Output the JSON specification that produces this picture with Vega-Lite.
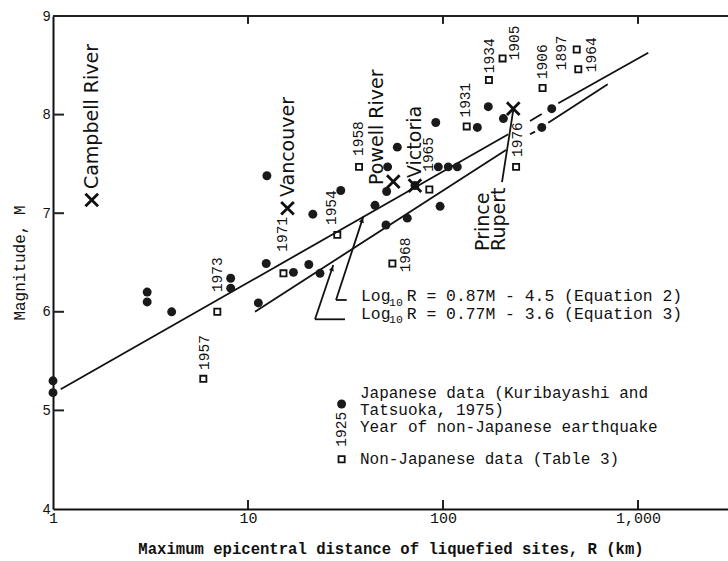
{
  "$schema": "https://vega.github.io/schema/vega-lite/v6.json",
  "width": 675,
  "height": 493,
  "autosize": {"type": "none"},
  "padding": {"left": 53, "top": 16, "right": 0, "bottom": 52},
  "background": "white",
  "config": {"view": {"stroke": null}, "font": "Liberation Mono"},
  "datasets": {
    "jp": [
      {"R": 1, "M": 5.30}, {"R": 1, "M": 5.18}, {"R": 3.04, "M": 6.20}, {"R": 3.04, "M": 6.10},
      {"R": 4.06, "M": 6.00}, {"R": 8.15, "M": 6.34}, {"R": 8.15, "M": 6.24}, {"R": 11.3, "M": 6.09},
      {"R": 12.5, "M": 7.38}, {"R": 12.4, "M": 6.49}, {"R": 17.1, "M": 6.40}, {"R": 20.5, "M": 6.48},
      {"R": 23.4, "M": 6.39}, {"R": 21.5, "M": 6.99}, {"R": 29.9, "M": 7.23}, {"R": 44.8, "M": 7.08},
      {"R": 51.4, "M": 7.22}, {"R": 52, "M": 7.47}, {"R": 58.3, "M": 7.67}, {"R": 51.0, "M": 6.88},
      {"R": 65.6, "M": 6.95}, {"R": 71.8, "M": 7.28}, {"R": 94.6, "M": 7.47}, {"R": 106.4, "M": 7.47},
      {"R": 118.4, "M": 7.47}, {"R": 96.6, "M": 7.07}, {"R": 91.8, "M": 7.92}, {"R": 150, "M": 7.87},
      {"R": 170.7, "M": 8.08}, {"R": 204, "M": 7.96}, {"R": 321, "M": 7.87}, {"R": 361, "M": 8.06}
    ],
    "nj": [
      {"R": 5.9, "M": 5.32, "year": "1957"}, {"R": 6.96, "M": 6.00, "year": "1973"},
      {"R": 15.2, "M": 6.39, "year": "1971"}, {"R": 28.7, "M": 6.78, "year": "1954"},
      {"R": 37.1, "M": 7.47, "year": "1958"}, {"R": 55.0, "M": 6.49, "year": "1968"},
      {"R": 85.1, "M": 7.24, "year": "1965"}, {"R": 132.3, "M": 7.88, "year": "1931"},
      {"R": 172, "M": 8.35, "year": "1934"}, {"R": 202, "M": 8.57, "year": "1905"},
      {"R": 237, "M": 7.47, "year": "1976"}, {"R": 324, "M": 8.27, "year": "1906"},
      {"R": 485, "M": 8.66, "year": "1897"}, {"R": 494, "M": 8.46, "year": "1964"}
    ],
    "named": [
      {"R": 1.58, "M": 7.134, "site": "Campbell River"}, {"R": 15.94, "M": 7.05, "site": "Vancouver"},
      {"R": 55.6, "M": 7.32, "site": "Powell River"}, {"R": 71.8, "M": 7.28, "site": "Victoria"},
      {"R": 229.3, "M": 8.06, "site": "Prince Rupert"}
    ],
    "segs": [
      {"R": 1.095, "M": 5.214, "R2": 216.2, "M2": 7.800},
      {"R": 279.4, "M": 7.935, "R2": 320.8, "M2": 8.006},
      {"R": 390.3, "M": 8.115, "R2": 1129, "M2": 8.628},
      {"R": 10.86, "M": 6.001, "R2": 210.4, "M2": 7.641},
      {"R": 279.4, "M": 7.800, "R2": 296.4, "M2": 7.827},
      {"R": 346.7, "M": 7.918, "R2": 699.2, "M2": 8.307},
      {"R": 32.08, "M": 6.120, "R2": 28.27, "M2": 6.120},
      {"R": 28.27, "M": 6.120, "R2": 39.03, "M2": 6.965},
      {"R": 31.44, "M": 5.924, "R2": 22.06, "M2": 5.924},
      {"R": 22.06, "M": 5.924, "R2": 27.38, "M2": 6.475},
      {"R": 200.7, "M": 7.316, "R2": 229.3, "M2": 8.047}
    ],
    "frame": [
      {"R": 1, "M": 9, "R2": 2894, "M2": 9},
      {"R": 10, "M": 9, "R2": 10, "M2": 8.92},
      {"R": 100, "M": 9, "R2": 100, "M2": 8.92},
      {"R": 1000, "M": 9, "R2": 1000, "M2": 8.92},
      {"R": 10, "M": 4, "R2": 10, "M2": 4.091},
      {"R": 100, "M": 4, "R2": 100, "M2": 4.091},
      {"R": 1000, "M": 4, "R2": 1000, "M2": 4.091},
      {"R": 1, "M": 5, "R2": 1.139, "M2": 5},
      {"R": 1, "M": 6, "R2": 1.139, "M2": 6},
      {"R": 1, "M": 7, "R2": 1.139, "M2": 7},
      {"R": 1, "M": 8, "R2": 1.139, "M2": 8}
    ],
    "arrows": [{"R": 38.47, "M": 6.928}, {"R": 27.0, "M": 6.438}],
    "years": [
      {"R": 6.02, "M": 5.41, "label": "1957"}, {"R": 7.02, "M": 6.20, "label": "1973"},
      {"R": 15.2, "M": 6.61, "label": "1971"}, {"R": 26.9, "M": 6.88, "label": "1954"},
      {"R": 37.1, "M": 7.58, "label": "1958"}, {"R": 84.8, "M": 7.42, "label": "1965"},
      {"R": 64.6, "M": 6.40, "label": "1968"}, {"R": 131, "M": 7.97, "label": "1931"},
      {"R": 174, "M": 8.42, "label": "1934"}, {"R": 235, "M": 8.55, "label": "1905"},
      {"R": 326, "M": 8.36, "label": "1906"}, {"R": 408, "M": 8.45, "label": "1897"},
      {"R": 581, "M": 8.43, "label": "1964"}, {"R": 243, "M": 7.57, "label": "1976"},
      {"R": 30.5, "M": 4.632, "label": "1925"}
    ],
    "places": [
      {"R": 1.594, "M": 7.245, "label": "Campbell River"},
      {"R": 16.04, "M": 7.164, "label": "Vancouver"},
      {"R": 45.77, "M": 7.286, "label": "Powell River"},
      {"R": 71.6, "M": 7.357, "label": "Victoria"},
      {"R": 160.4, "M": 6.617, "label": "Prince\nRupert"}
    ],
    "legpt": [{"R": 30.2, "M": 5.065}],
    "legsq": [{"R": 30.2, "M": 4.504}],
    "legtext": [
      {"R": 37.5, "M": 5.173, "label": "Japanese data (Kuribayashi and"},
      {"R": 37.5, "M": 5.004, "label": "Tatsuoka, 1975)"},
      {"R": 37.5, "M": 4.835, "label": "Year of non-Japanese earthquake"},
      {"R": 37.5, "M": 4.504, "label": "Non-Japanese data (Table 3)"}
    ],
    "eqlog": [{"R": 37.97, "M": 6.158, "label": "Log"}, {"R": 37.97, "M": 5.981, "label": "Log"}],
    "eqsub": [{"R": 52.9, "M": 6.094, "label": "10"}, {"R": 52.9, "M": 5.917, "label": "10"}],
    "eqmain": [
      {"R": 65.15, "M": 6.158, "label": "R = 0.87M - 4.5 (Equation 2)"},
      {"R": 65.15, "M": 5.981, "label": "R = 0.77M - 3.6 (Equation 3)"}
    ]
  },
  "encoding": {
    "x": {"field": "R", "type": "quantitative", "scale": {"type": "log", "domain": [1, 2894], "nice": false},
      "axis": {"orient": "bottom", "values": [1, 10, 100, 1000], "format": ",", "grid": false,
        "domainColor": "#111", "domainWidth": 2, "ticks": false,
        "labelPadding": 1, "labelFont": "Liberation Mono", "labelFontSize": 15, "labelColor": "#111",
        "labelFlush": false, "labelOverlap": false,
        "title": "Maximum epicentral distance of liquefied sites, R (km)", "titleFont": "Liberation Mono",
        "titleFontSize": 15.6, "titleFontWeight": "bold", "titleColor": "#111", "titlePadding": 16}},
    "y": {"field": "M", "type": "quantitative", "scale": {"domain": [4, 9], "nice": false, "zero": false},
      "axis": {"values": [4, 5, 6, 7, 8, 9], "grid": false, "domainColor": "#111", "domainWidth": 2,
        "ticks": false, "labelPadding": 3,
        "labelFont": "Liberation Sans", "labelFontSize": 14, "labelColor": "#111", "labelFlush": false,
        "title": "Magnitude, M", "titleFont": "Liberation Mono", "titleFontSize": 16,
        "titleFontWeight": "normal", "titleColor": "#111", "titlePadding": 15}}
  },
  "layer": [
    {
      "data": {"name": "frame"},
      "mark": {"type": "rule", "color": "#222", "strokeWidth": 2},
      "encoding": {"x2": {"field": "R2"}, "y2": {"field": "M2"}}
    },
    {
      "data": {"name": "segs"},
      "mark": {"type": "rule", "color": "#111", "strokeWidth": 1.8},
      "encoding": {"x2": {"field": "R2"}, "y2": {"field": "M2"}}
    },
    {
      "data": {"name": "jp"},
      "mark": {"type": "point", "shape": "circle", "filled": true, "color": "#1a1a1a", "size": 80, "opacity": 1}
    },
    {
      "data": {"name": "legpt"},
      "mark": {"type": "point", "shape": "circle", "filled": true, "color": "#1a1a1a", "size": 80, "opacity": 1}
    },
    {
      "data": {"name": "nj"},
      "mark": {"type": "point", "shape": "square", "filled": false, "color": "#111", "size": 38, "strokeWidth": 1.8, "opacity": 1}
    },
    {
      "data": {"name": "legsq"},
      "mark": {"type": "point", "shape": "square", "filled": false, "color": "#111", "size": 38, "strokeWidth": 1.8, "opacity": 1}
    },
    {
      "data": {"name": "named"},
      "mark": {"type": "point", "shape": "M-1,-1L1,1M-1,1L1,-1", "filled": false, "color": "#111", "size": 160, "strokeWidth": 2.8, "opacity": 1}
    },
    {
      "data": {"name": "arrows"},
      "mark": {"type": "point", "shape": "triangle-up", "filled": true, "color": "#111", "size": 28, "angle": 18, "opacity": 1}
    },
    {
      "data": {"name": "years"},
      "mark": {"type": "text", "angle": 270, "align": "left", "baseline": "middle", "font": "Liberation Mono", "fontSize": 14.5, "color": "#111"},
      "encoding": {"text": {"field": "label"}}
    },
    {
      "data": {"name": "places"},
      "mark": {"type": "text", "angle": 270, "align": "left", "baseline": "middle", "font": "DejaVu Sans", "fontSize": 19, "lineHeight": 16, "lineBreak": "\n", "color": "#111"},
      "encoding": {"text": {"field": "label"}}
    },
    {
      "data": {"name": "legtext"},
      "mark": {"type": "text", "align": "left", "baseline": "middle", "font": "Liberation Mono", "fontSize": 16, "color": "#111"},
      "encoding": {"text": {"field": "label"}}
    },
    {
      "data": {"name": "eqlog"},
      "mark": {"type": "text", "align": "left", "baseline": "middle", "font": "Liberation Mono", "fontSize": 16.4, "color": "#111"},
      "encoding": {"text": {"field": "label"}}
    },
    {
      "data": {"name": "eqsub"},
      "mark": {"type": "text", "align": "left", "baseline": "middle", "font": "Liberation Mono", "fontSize": 11.5, "color": "#111"},
      "encoding": {"text": {"field": "label"}}
    },
    {
      "data": {"name": "eqmain"},
      "mark": {"type": "text", "align": "left", "baseline": "middle", "font": "Liberation Mono", "fontSize": 16.4, "color": "#111"},
      "encoding": {"text": {"field": "label"}}
    }
  ]
}
